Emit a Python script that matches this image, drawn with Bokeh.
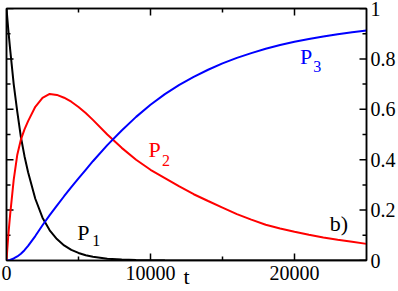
import math
from bokeh.plotting import figure
from bokeh.models import Range1d, LinearAxis, FixedTicker, Label
from bokeh.embed import file_html
from bokeh.resources import INLINE

# time values
t = [0, 125, 250, 500, 750, 1000, 1250, 1500, 2000, 2500, 3000, 3500, 4000, 4500,
     5000, 5500, 6000, 7000, 8000, 9000, 10000, 11000, 12000, 13000, 14000, 15000,
     16000, 17000, 18000, 19000, 20000, 21000, 22000, 23000, 24000, 25000]
# populations
p1 = [1.0, 0.915, 0.84, 0.70, 0.59, 0.49, 0.414, 0.35, 0.245, 0.17, 0.12, 0.085,
      0.06, 0.042, 0.03, 0.021, 0.015, 0.007, 0.0035, 0.0018, 0.001, 0.0005,
      0.0002, 0, 0, 0, 0, 0, 0, 0, 0, 0, 0, 0, 0, 0]
p2 = [0, 0.10, 0.18, 0.32, 0.42, 0.48, 0.52, 0.553, 0.61, 0.645, 0.661, 0.657,
      0.646, 0.63, 0.609, 0.585, 0.558, 0.50, 0.447, 0.40, 0.36, 0.327, 0.294,
      0.263, 0.236, 0.21, 0.184, 0.162, 0.142, 0.127, 0.114, 0.102, 0.091, 0.082,
      0.074, 0.066]
p3 = [0, 0.0005, 0.002, 0.008, 0.016, 0.027, 0.041, 0.058, 0.097, 0.14, 0.18,
      0.218, 0.255, 0.291, 0.326, 0.36, 0.394, 0.458, 0.516, 0.570, 0.618, 0.660,
      0.697, 0.729, 0.757, 0.782, 0.804, 0.823, 0.840, 0.855, 0.868, 0.879, 0.889,
      0.898, 0.906, 0.913]

x_major = [0, 10000, 20000]
x_minor = [5000, 15000]
y_major = [0, 0.2, 0.4, 0.6, 0.8, 1]
y_minor = [0.1, 0.3, 0.5, 0.7, 0.9]
y_labels = {0: "0", 0.2: "0.2", 0.4: "0.4", 0.6: "0.6", 0.8: "0.8", 1: "1"}
x_min, x_max = 0, 25000
y_min, y_max = 0, 1

FONT = "Liberation Serif"

p = figure(width=398, height=291, x_range=Range1d(x_min, x_max),
           y_range=Range1d(y_min, y_max),
           output_backend="svg", toolbar_location=None, y_axis_location="right",
           min_border_left=6, min_border_top=8, min_border_right=0,
           min_border_bottom=31)
p.grid.visible = False
p.outline_line_color = "black"
p.outline_line_width = 1.5
p.background_fill_color = "white"
p.border_fill_color = "white"


def style(ax, show_labels):
    ax.major_tick_in = 0
    ax.major_tick_out = 0
    ax.minor_tick_in = 0
    ax.minor_tick_out = 0
    ax.axis_line_width = 1.5
    ax.axis_line_color = "black"
    ax.major_label_text_font = FONT
    ax.major_label_text_color = "black"
    if show_labels:
        ax.major_label_text_font_size = "20px"
    else:
        ax.major_label_text_font_size = "0px"
        ax.major_label_standoff = 0


xb = p.xaxis[0]
xb.ticker = FixedTicker(ticks=x_major, minor_ticks=x_minor)
style(xb, True)
xb.major_label_standoff = 5
xb.axis_label = "t"
xb.axis_label_text_font = FONT
xb.axis_label_text_font_style = "normal"
xb.axis_label_text_font_size = "22px"
xb.axis_label_text_color = "black"
xb.axis_label_standoff = -19

yr = p.yaxis[0]
yr.ticker = FixedTicker(ticks=y_major, minor_ticks=y_minor)
style(yr, True)
yr.major_label_standoff = 4
yr.major_label_overrides = y_labels

xtop = LinearAxis(ticker=FixedTicker(ticks=x_major, minor_ticks=x_minor))
style(xtop, False)
p.add_layout(xtop, "above")

yl = LinearAxis(ticker=FixedTicker(ticks=y_major, minor_ticks=y_minor))
style(yl, False)
p.add_layout(yl, "left")

# inward tick marks on all four sides (half of each dash is clipped by the frame)
for xs, size in ((x_major, 14), (x_minor, 8)):
    for yv in (y_min, y_max):
        p.scatter(xs, [yv] * len(xs), marker="dash", angle=math.pi / 2, size=size,
                  line_color="black", line_width=1.5)
for ys, size in ((y_major, 14), (y_minor, 8)):
    for xv in (x_min, x_max):
        p.scatter([xv] * len(ys), ys, marker="dash", size=size,
                  line_color="black", line_width=1.5)

p.line(t, p1, line_color="black", line_width=2)
p.line(t, p2, line_color="red", line_width=2)
p.line(t, p3, line_color="blue", line_width=2)

labels = [
    ("P", 4920, 0.112, "22px", "black"), ("1", 5960, 0.081, "16px", "black"),
    ("P", 9862, 0.44, "22px", "red"), ("2", 10790, 0.396, "16px", "red"),
    ("P", 20374, 0.81, "22px", "blue"), ("3", 21296, 0.77, "16px", "blue"),
    ("b)", 22453, 0.145, "22px", "black"),
]
for txt, lx, ly, fs, col in labels:
    p.add_layout(Label(x=lx, y=ly, text=txt, text_font=FONT, text_font_size=fs,
                       text_color=col, text_baseline="alphabetic"))

open("out.html", "w").write(file_html(p, INLINE))
